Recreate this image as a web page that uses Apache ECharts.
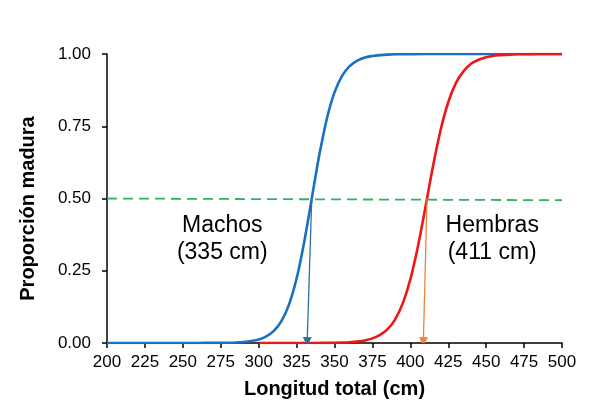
<!DOCTYPE html>
<html lang="es">
<head>
    <meta charset="UTF-8">
    <title>Proporción madura</title>
    <script src="https://cdn.jsdelivr.net/npm/echarts@6/dist/echarts.min.js"></script>
    <style>
        html, body { margin: 0; padding: 0; background: #fff; }
        #chart { width: 589px; height: 420px; }
    </style>
</head>
<body>
<div id="chart"></div>
<script type="text/javascript">
    // values (longitud total, proporcion madura)
    var machosX = [200, 240, 260, 270, 275, 280, 285, 290, 295, 300, 305, 310, 315, 320, 325, 330, 335,
                   340, 345, 350, 355, 360, 365, 370, 375, 380, 385, 390, 400, 425, 450, 500];
    var machosY = [0, 0, 0.0002, 0.0004, 0.0006, 0.001, 0.0019, 0.0036, 0.0067, 0.012, 0.023, 0.042, 0.076, 0.133, 0.223, 0.349, 0.5,
                   0.651, 0.777, 0.867, 0.924, 0.958, 0.977, 0.988, 0.993, 0.996, 0.998, 0.999, 0.9997, 1, 1, 1];

    var hembrasX = [300, 330, 340, 350, 355, 360, 365, 370, 375, 380, 385, 390, 395, 400, 405, 410, 415,
                    420, 425, 430, 435, 440, 445, 450, 455, 460, 465, 470, 480, 490, 500];
    var hembrasY = [0, 0.0001, 0.0004, 0.0009, 0.0016, 0.0028, 0.005, 0.009, 0.016, 0.028, 0.048, 0.082, 0.137, 0.22, 0.334, 0.471, 0.613,
                    0.738, 0.833, 0.899, 0.94, 0.966, 0.98, 0.989, 0.994, 0.996, 0.998, 0.999, 0.9996, 0.9999, 1];

    var mitadX = [200, 500];
    var mitadY = [0.5, 0.494];

    // L50 arrows: from the curve at 0.5 down to the axis
    var flechaMachos = [[335, 0.5], [332, 0.005]];
    var flechaHembras = [[411, 0.5], [408.6, 0.005]];

    var etiquetas = [
        { pos: [276, 0.36], text: 'Machos\n(335 cm)' },
        { pos: [454, 0.36], text: 'Hembras\n(411 cm)' }
    ];

    var xTicks = { min: 200, max: 500, interval: 25 };
    var yTicks = { min: 0, max: 1, interval: 0.25 };

    function pares(xs, ys) {
        return xs.map(function (x, i) { return [x, ys[i]]; });
    }

    var fuente = '"Liberation Sans", Arial, sans-serif';
    var chart = echarts.init(document.getElementById('chart'));

    var option = {
        animation: false,
        backgroundColor: '#ffffff',
        textStyle: { fontFamily: fuente },
        grid: { left: 107, right: 27, top: 54, bottom: 77 },
        xAxis: {
            type: 'value',
            min: xTicks.min,
            max: xTicks.max,
            interval: xTicks.interval,
            name: 'Longitud total (cm)',
            nameLocation: 'middle',
            nameGap: 36,
            nameTextStyle: { fontFamily: fuente, fontSize: 20, fontWeight: 'bold', color: '#000' },
            axisLine: { lineStyle: { color: '#000', width: 1.5 } },
            axisTick: { show: true, length: 5, lineStyle: { color: '#000', width: 1.5 } },
            axisLabel: { fontFamily: fuente, fontSize: 17, color: '#000', margin: 11 },
            splitLine: { show: false }
        },
        yAxis: {
            type: 'value',
            min: yTicks.min,
            max: yTicks.max,
            interval: yTicks.interval,
            name: 'Proporción madura',
            nameLocation: 'middle',
            nameGap: 69,
            nameTextStyle: {
                fontFamily: fuente, fontSize: 20, fontWeight: 'bold', color: '#000',
                padding: [0, 20, 0, 0]
            },
            axisLine: { show: true, lineStyle: { color: '#000', width: 1.5 } },
            axisTick: { show: true, length: 5, lineStyle: { color: '#000', width: 1.5 } },
            axisLabel: {
                fontFamily: fuente, fontSize: 17, color: '#000', margin: 16,
                formatter: function (v) { return v.toFixed(2); }
            },
            splitLine: { show: false }
        },
        series: [
            {
                name: 'Mitad',
                type: 'line',
                data: pares(mitadX, mitadY),
                symbol: 'none',
                lineStyle: { color: '#2fb063', width: 1.8, type: [10, 6] },
                z: 1
            },
            {
                name: 'Machos',
                type: 'line',
                data: pares(machosX, machosY),
                symbol: 'none',
                smooth: 0.3,
                lineStyle: { color: '#1a6fc0', width: 2.6 },
                z: 3
            },
            {
                name: 'Hembras',
                type: 'line',
                data: pares(hembrasX, hembrasY),
                symbol: 'none',
                smooth: 0.3,
                lineStyle: { color: '#ec1717', width: 2.6 },
                z: 4
            },
            {
                name: 'Flechas',
                type: 'lines',
                coordinateSystem: 'cartesian2d',
                symbol: ['none', 'triangle'],
                symbolSize: 9,
                z: 5,
                data: [
                    { coords: flechaMachos, lineStyle: { color: '#2f6f9c', width: 1.3, opacity: 1 } },
                    { coords: flechaHembras, lineStyle: { color: '#ec8444', width: 1.3, opacity: 1 } }
                ]
            },
            {
                name: 'Etiquetas',
                type: 'scatter',
                symbolSize: 0,
                silent: true,
                itemStyle: { opacity: 1, color: 'rgba(0,0,0,0)' },
                data: etiquetas.map(function (e) { return { value: e.pos, texto: e.text }; }),
                label: {
                    show: true,
                    position: 'inside',
                    fontFamily: fuente,
                    fontSize: 23,
                    lineHeight: 27,
                    color: '#000',
                    opacity: 1,
                    align: 'center',
                    formatter: function (p) { return p.data.texto; }
                }
            }
        ]
    };

    chart.setOption(option);
</script>
</body>
</html>
